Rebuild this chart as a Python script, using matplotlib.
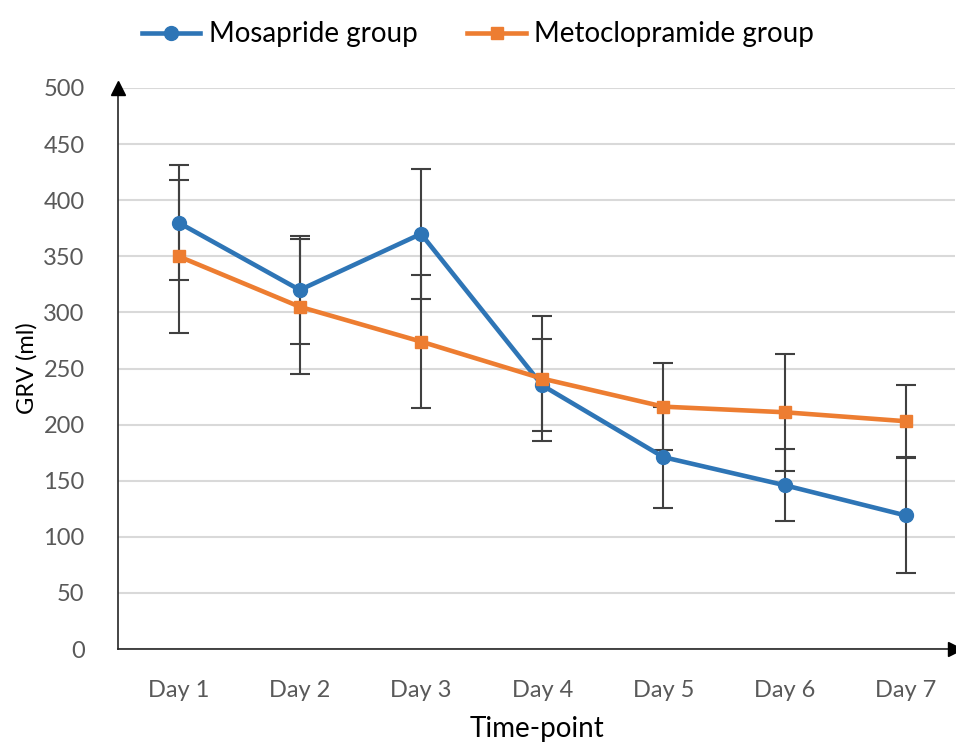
import numpy as np
import matplotlib.pyplot as plt

# datos
dias = ['Day 1', 'Day 2', 'Day 3', 'Day 4', 'Day 5', 'Day 6', 'Day 7']
mosapride = [380, 320, 370, 235, 171, 146, 119]
mosapride_err = [51, 48, 58, 41, 45, 32, 51]
metoclopramida = [350, 305, 274, 241, 216, 211, 203]
metoclopramida_err = [68, 60, 59, 56, 39, 52, 32]

plt.rcParams['font.family'] = ['Lato', 'DejaVu Sans']

fig = plt.figure(figsize=(9.56, 7.44), dpi=100)
ax = fig.add_axes([118 / 956, 95 / 744, (955 - 118) / 956, 561 / 744])

x = np.arange(1, len(dias) + 1)
azul = '#2E75B6'
naranja = '#ED7D31'

ax.errorbar(x, mosapride, yerr=mosapride_err, fmt='none', ecolor='#404040',
            elinewidth=1.5, capsize=7, capthick=1.5, zorder=2)
ax.errorbar(x, metoclopramida, yerr=metoclopramida_err, fmt='none', ecolor='#404040',
            elinewidth=1.5, capsize=7, capthick=1.5, zorder=2)
ax.plot(x, mosapride, '-o', color=azul, lw=3.3, ms=10, label='Mosapride group', zorder=3)
ax.plot(x, metoclopramida, '-s', color=naranja, lw=3.3, ms=8,
        label='Metoclopramide group', zorder=3)

ax.set_xlim(0.5, 0.5 + (955 - 118) / 121.2)
ax.set_ylim(0, 500)
ax.set_yticks(np.arange(0, 501, 50))
ax.set_xticks(x)
ax.set_xticklabels(dias)
ax.tick_params(length=0, labelsize=17, colors='#595959')
ax.tick_params(axis='x', pad=22)
ax.tick_params(axis='y', pad=24)
ax.grid(axis='y', color='#d9d9d9', lw=1.5)
ax.set_axisbelow(True)

for lado in ['top', 'right']:
    ax.spines[lado].set_visible(False)
for lado in ['left', 'bottom']:
    ax.spines[lado].set_color('#262626')
    ax.spines[lado].set_linewidth(1.2)

# flechas de los ejes
ax.plot(0, 1, '^', color='black', ms=10, transform=ax.transAxes, clip_on=False, zorder=5)
ax.plot(1, 0, '>', color='black', ms=10, transform=ax.transAxes, clip_on=False, zorder=5)

ax.set_ylabel('GRV (ml)', fontsize=17, labelpad=4)
ax.set_xlabel('Time-point', fontsize=20, labelpad=11)

fig.legend(loc='upper center', bbox_to_anchor=(0.5, 1.005), ncol=2, frameon=False,
           fontsize=20, handlelength=2.1, columnspacing=1.8, handletextpad=0.3)

plt.savefig('out.png', dpi=100)
